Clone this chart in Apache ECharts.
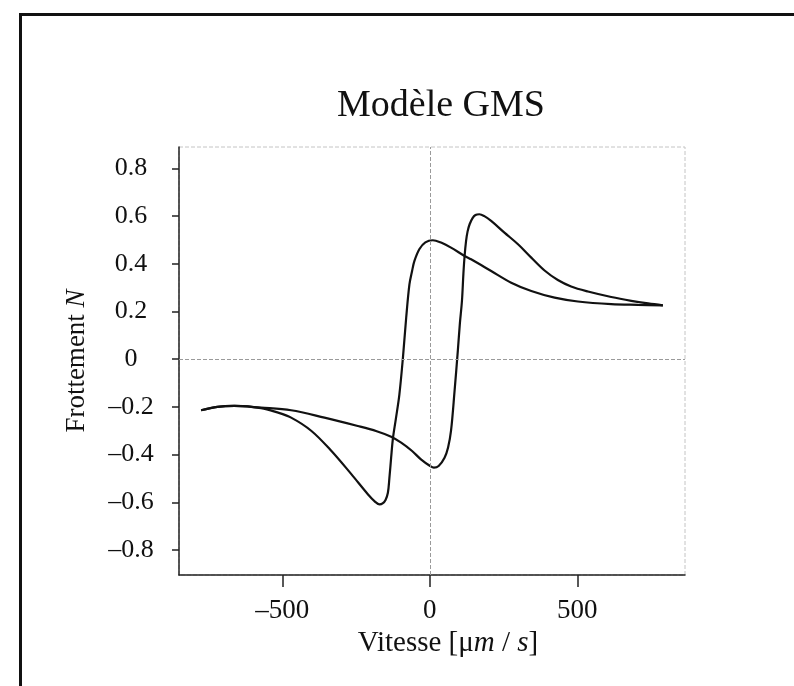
<!DOCTYPE html>
<html>
<head>
<meta charset="utf-8">
<script src="https://cdn.jsdelivr.net/npm/echarts@6/dist/echarts.min.js"></script>
<style>
html,body{margin:0;padding:0;background:#fff;}
#chart{width:794px;height:686px;}
</style>
</head>
<body>
<div id="chart"></div>
<script>
// Increasing-velocity branch
const upVelocity = [-775,-720,-662,-572,-470,-357,-244,-180,-131,-97,-60,-30,0,14,30,50,62,72,84,95,102,109,114,118,123,128,135,145,155,168,185,208,253,299,344,389,434,479,536,615,683,740,790];
const upFriction = [-0.214,-0.200,-0.196,-0.203,-0.214,-0.245,-0.280,-0.302,-0.325,-0.350,-0.385,-0.420,-0.447,-0.455,-0.448,-0.413,-0.370,-0.300,-0.133,0.035,0.150,0.244,0.360,0.433,0.496,0.535,0.566,0.592,0.605,0.608,0.600,0.580,0.531,0.482,0.426,0.372,0.332,0.305,0.284,0.261,0.245,0.234,0.226];
// Decreasing-velocity branch
const downVelocity = [790,705,615,502,423,344,276,208,140,118,72,40,10,-15,-35,-52,-60,-69,-80,-91,-103,-115,-125,-131,-137,-142,-150,-160,-170,-185,-210,-266,-334,-402,-470,-520,-572,-662,-720,-775];
const downFriction = [0.226,0.228,0.231,0.242,0.258,0.286,0.321,0.370,0.419,0.433,0.468,0.488,0.499,0.490,0.462,0.412,0.370,0.314,0.174,0.007,-0.147,-0.250,-0.333,-0.413,-0.500,-0.560,-0.590,-0.605,-0.609,-0.598,-0.566,-0.482,-0.384,-0.300,-0.245,-0.222,-0.205,-0.196,-0.200,-0.214];

const xTicks = [-500, 0, 500];
const yTicks = [-0.8, -0.6, -0.4, -0.2, 0, 0.2, 0.4, 0.6, 0.8];

const titleText = 'Modèle GMS';
const yName = 'Frottement {i|N}';
const xName = 'Vitesse [\u03BC{i|m} / {i|s}]';

const upData = upVelocity.map((v, i) => [v, upFriction[i]]);
const downData = downVelocity.map((v, i) => [v, downFriction[i]]);

const fmt = v => {
  if (Math.abs(v) < 1e-9) return '0';
  const s = Math.abs(v) >= 1 ? String(Math.round(v)) : v.toFixed(1);
  return s.replace('-', '\u2013');
};

const serif = '"Liberation Serif", "Times New Roman", serif';
const chart = echarts.init(document.getElementById('chart'), null, {renderer: 'canvas'});
chart.setOption({
  backgroundColor: '#ffffff',
  animation: false,
  title: {
    text: titleText,
    left: 436, top: 82, textAlign: 'center',
    textStyle: {fontFamily: serif, fontSize: 38, fontWeight: 'normal', color: '#111'}
  },
  graphic: [{
    type: 'rect',
    shape: {x: 20.5, y: 14.5, width: 900, height: 800},
    style: {fill: 'none', stroke: '#111', lineWidth: 3},
    silent: true
  }],
  grid: {
    left: 179, top: 147, right: 109, bottom: 111,
    show: true, borderColor: '#c4c4c4', borderWidth: 1, borderType: 'dashed',
    backgroundColor: 'transparent'
  },
  xAxis: {
    type: 'value', min: -850, max: 865,
    name: xName,
    nameLocation: 'middle', nameGap: 42,
    nameTextStyle: {fontFamily: serif, fontSize: 29, color: '#111', padding: [0, 0, 0, 32],
      rich: {i: {fontFamily: serif, fontSize: 29, fontStyle: 'italic', color: '#111'}}},
    axisLine: {show: true, onZero: false, lineStyle: {color: '#222', width: 1.5}},
    axisTick: {show: true, inside: false, length: 12, customValues: xTicks, lineStyle: {color: '#222', width: 1.5}},
    axisLabel: {customValues: xTicks, formatter: fmt, margin: 22, fontFamily: serif, fontSize: 27, color: '#111'},
    splitLine: {show: false}
  },
  yAxis: {
    type: 'value', min: -0.905, max: 0.89,
    name: yName,
    nameLocation: 'middle', nameGap: 89, nameRotate: 90,
    nameTextStyle: {fontFamily: serif, fontSize: 27, color: '#111',
      rich: {i: {fontFamily: serif, fontSize: 27, fontStyle: 'italic', color: '#111'}}},
    axisLine: {show: true, onZero: false, lineStyle: {color: '#222', width: 1.5}},
    axisTick: {show: true, inside: false, length: 7, customValues: yTicks, lineStyle: {color: '#222', width: 1.5}},
    axisLabel: {customValues: yTicks, formatter: fmt, margin: 48, align: 'center', fontFamily: serif, fontSize: 26, color: '#111'},
    splitLine: {show: false}
  },
  series: [
    {
      type: 'line', data: upData, showSymbol: false, smooth: 0.35,
      lineStyle: {color: '#111', width: 2.2},
      markLine: {
        silent: true, symbol: 'none', label: {show: false},
        lineStyle: {color: '#9a9a9a', type: 'dashed', width: 1},
        data: [{xAxis: 0}, {yAxis: 0}]
      }
    },
    {
      type: 'line', data: downData, showSymbol: false, smooth: 0.35,
      lineStyle: {color: '#111', width: 2.2}
    }
  ]
});
</script>
</body>
</html>
